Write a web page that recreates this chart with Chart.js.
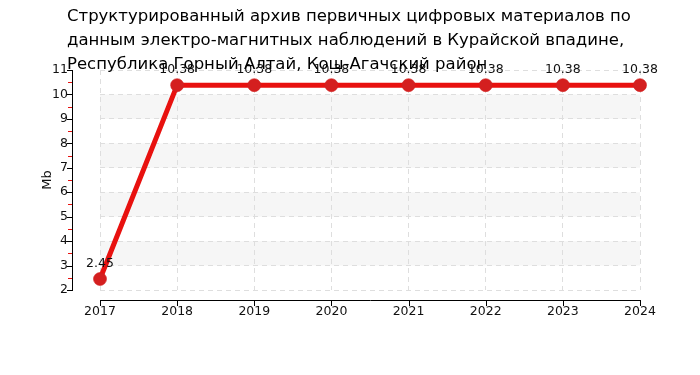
<!DOCTYPE html>
<html>
<head>
<meta charset="utf-8">
<script src="https://cdn.jsdelivr.net/npm/chart.js@4"></script>
<style>
  html, body { margin: 0; padding: 0; background: #fff; }
  #wrap { position: relative; width: 700px; height: 375px; }
  #title {
    position: absolute; left: 67px; top: 4px; width: 630px;
    font: 16.5px "DejaVu Sans", sans-serif; line-height: 24px; color: #000;
    pointer-events: none;
  }
</style>
</head>
<body>
<div id="wrap">
  <canvas id="chart" width="700" height="375"></canvas>
  <div id="title">Структурированный архив первичных цифровых материалов по<br>данным электро-магнитных наблюдений в Курайской впадине,<br>Республика Горный Алтай, Кош-Агачский район</div>
</div>
<script>
'use strict';

// data
var years  = ['2017', '2018', '2019', '2020', '2021', '2022', '2023', '2024'];
var sizeMb = [2.45, 10.38, 10.38, 10.38, 10.38, 10.38, 10.38, 10.38];
var yMin = 2, yMax = 11;
var bandRanges = [[9, 10], [7, 8], [5, 6], [3, 4]];

var FONT = '"DejaVu Sans", sans-serif';

/* bands, detached axis lines, tick marks and value labels */
var decor = {
    id: 'decor',
    beforeDraw: function (chart) {
        var ctx = chart.ctx, a = chart.chartArea, y = chart.scales.y;
        ctx.save();
        ctx.fillStyle = '#f6f6f6';
        bandRanges.forEach(function (r) {
            var top = y.getPixelForValue(r[1]), bot = y.getPixelForValue(r[0]);
            ctx.fillRect(a.left, top, a.right - a.left, bot - top);
        });
        ctx.restore();
    },
    afterDraw: function (chart) {
        var ctx = chart.ctx, a = chart.chartArea, x = chart.scales.x, y = chart.scales.y;
        var axX = a.left - 28, axY = a.bottom + 10;
        ctx.save();

        // red minor ticks
        ctx.strokeStyle = '#e8110f';
        ctx.lineWidth = 1;
        ctx.beginPath();
        for (var m = yMin + 0.5; m < yMax; m++) {
            var my = Math.round(y.getPixelForValue(m)) + 0.5;
            ctx.moveTo(axX - 4, my);
            ctx.lineTo(axX, my);
        }
        ctx.stroke();

        ctx.strokeStyle = '#000';
        ctx.beginPath();
        // y axis
        ctx.moveTo(axX + 0.5, y.getPixelForValue(yMax));
        ctx.lineTo(axX + 0.5, y.getPixelForValue(yMin));
        for (var v = yMin; v <= yMax; v++) {
            var py = Math.round(y.getPixelForValue(v)) + 0.5;
            ctx.moveTo(axX - 5, py);
            ctx.lineTo(axX + 1, py);
        }
        // x axis
        ctx.moveTo(a.left, axY + 0.5);
        ctx.lineTo(a.right + 1, axY + 0.5);
        for (var i = 0; i < years.length; i++) {
            var px = Math.round(x.getPixelForValue(i)) + 0.5;
            ctx.moveTo(px, axY);
            ctx.lineTo(px, axY + 6);
        }
        ctx.stroke();
        ctx.restore();
    },
    afterDatasetsDraw: function (chart) {
        var ctx = chart.ctx, meta = chart.getDatasetMeta(0);
        ctx.save();
        ctx.font = '12.5px ' + FONT;
        ctx.fillStyle = '#111';
        ctx.textAlign = 'center';
        ctx.textBaseline = 'middle';
        meta.data.forEach(function (pt, i) {
            ctx.fillText(sizeMb[i].toFixed(2), pt.x, pt.y - 15);
        });
        ctx.restore();
    }
};

new Chart(document.getElementById('chart').getContext('2d'), {
    type: 'line',
    data: {
        labels: years,
        datasets: [{
            data: sizeMb,
            borderColor: '#e8110f',
            borderWidth: 5,
            backgroundColor: '#d41f1f',
            pointBackgroundColor: '#d41f1f',
            pointBorderColor: 'rgba(212,31,31,0.6)',
            pointBorderWidth: 1,
            pointRadius: 6.5,
            tension: 0,
            fill: false,
        }],
    },
    options: {
        responsive: false,
        animation: false,
        layout: { padding: { left: 0, right: 60, top: 70, bottom: 50 } },
        plugins: {
            legend: { display: false },
            tooltip: { enabled: false },
        },
        scales: {
            x: {
                offset: false,
                afterFit: function (s) { s.height = 35; },
                grid: { color: '#dedede', drawTicks: false },
                border: { display: false, dash: [5, 4] },
                ticks: { color: '#111', font: { family: FONT, size: 12.5 }, padding: 14, maxRotation: 0 },
            },
            y: {
                min: yMin,
                max: yMax,
                afterFit: function (s) { s.width = 100; },
                grid: { color: '#dedede', drawTicks: false },
                border: { display: false, dash: [5, 4] },
                ticks: { stepSize: 1, color: '#111', font: { family: FONT, size: 12.5 }, padding: 32 },
                title: {
                    display: true, text: 'Mb', color: '#111',
                    font: { family: FONT, size: 13 }, padding: { top: 40, bottom: 0 },
                },
            },
        },
    },
    plugins: [decor],
});
</script>
</body>
</html>
